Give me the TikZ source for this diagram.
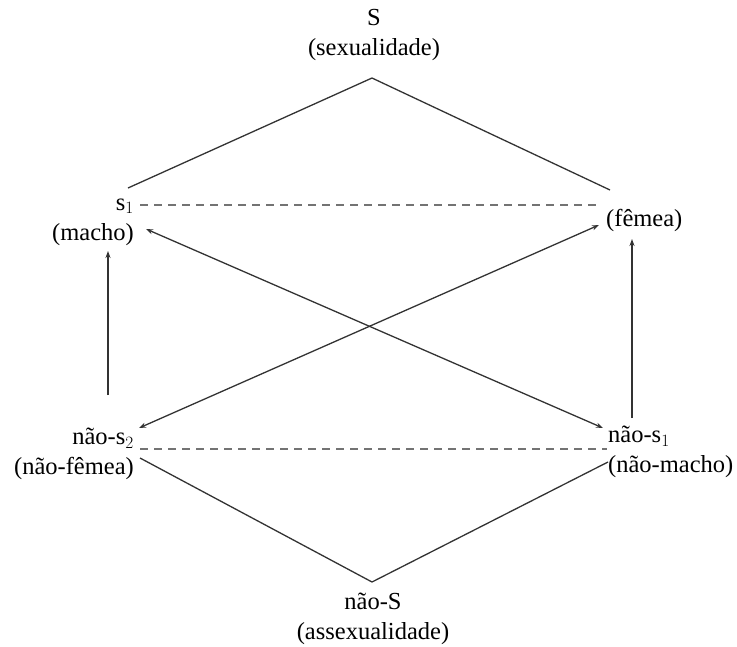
\documentclass[tikz,border=0pt]{standalone}
\usepackage{fontspec}
\setmainfont{Liberation Serif}
\usetikzlibrary{arrows.meta}
\begin{document}
\begin{tikzpicture}[x=1pt,y=-1pt,
  lbl/.style={inner sep=0pt,font=\fontsize{24.5}{30}\selectfont},
  solidline/.style={draw=black!80,line width=1.3pt},
  dashline/.style={draw=black!55,line width=1.4pt,dash pattern=on 8pt off 6pt},
  arr/.style={draw=black!80,line width=1.3pt,-{Stealth[length=7pt,width=5pt]}},
  darr/.style={draw=black!80,line width=1.3pt,{Stealth[length=7pt,width=5pt]}-{Stealth[length=7pt,width=5pt]}}]
\useasboundingbox (0,0) rectangle (737,646);
% texts
\node[lbl,align=center] (S) at (374,35) {S\\(sexualidade)};
\node[lbl,align=right,anchor=east] (s1) at (134,222) {s$_1$\\(macho)};
\node[lbl,anchor=west] (fem) at (606,220) {(fêmea)};
\node[lbl,align=right,anchor=east] (ns2) at (134,454) {não-s$_2$\\(não-fêmea)};
\node[lbl,align=left,anchor=west] (ns1) at (608,452) {não-s$_1$\\(não-macho)};
\node[lbl,align=center] (nS) at (373,619) {não-S\\(assexualidade)};
% connector end points
\coordinate (top) at (372,78);
\coordinate (tl) at (128,188);
\coordinate (tr) at (610,190);
\coordinate (dtl) at (140,205);
\coordinate (dtr) at (598,205);
\coordinate (d1a) at (146,229);
\coordinate (d1b) at (603,428);
\coordinate (d2a) at (139,428);
\coordinate (d2b) at (599,225);
\coordinate (vla) at (108,395);
\coordinate (vlb) at (108,251);
\coordinate (vra) at (632,418);
\coordinate (vrb) at (632,239);
\coordinate (dbl) at (140,449);
\coordinate (dbr) at (607,449);
\coordinate (bl) at (140,458);
\coordinate (bot) at (372,582);
\coordinate (br) at (608,462);
% connectors
\draw[solidline] (tl) -- (top) -- (tr);
\draw[dashline] (dtl) -- (dtr);
\draw[darr] (d1a) -- (d1b);
\draw[darr] (d2a) -- (d2b);
\draw[arr] (vla) -- (vlb);
\draw[arr] (vra) -- (vrb);
\draw[dashline] (dbl) -- (dbr);
\draw[solidline] (bl) -- (bot) -- (br);
\end{tikzpicture}
\end{document}
